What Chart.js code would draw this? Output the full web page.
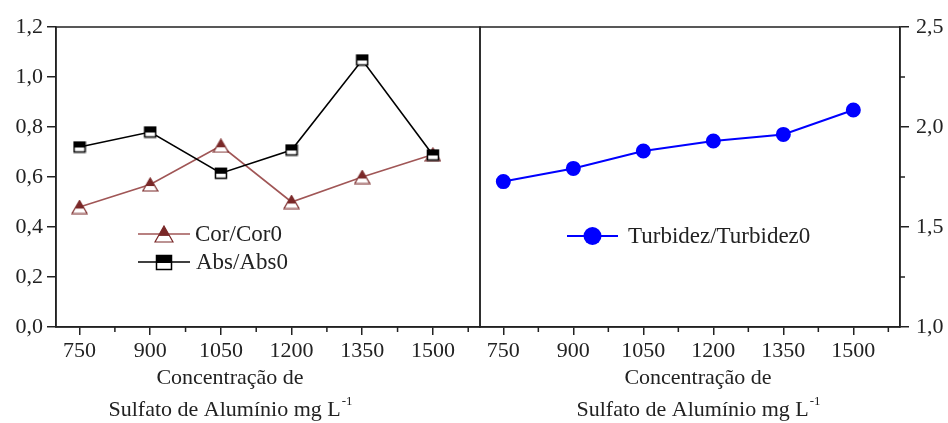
<!DOCTYPE html>
<html>
<head>
<meta charset="utf-8">
<script src="https://cdn.jsdelivr.net/npm/chart.js@4.4.0/dist/chart.umd.min.js"></script>
<style>
  html, body { margin: 0; padding: 0; background: #fff; overflow: hidden; }
  #wrap { position: relative; width: 948px; height: 423px; }
  #left { position: absolute; left: 0; top: 0; }
  #right { position: absolute; left: 470px; top: 0; }
</style>
</head>
<body>
<div id="wrap">
  <canvas id="left" width="482" height="426"></canvas>
  <canvas id="right" width="478" height="426"></canvas>
</div>
<script>
// data
var concentrations = [750, 900, 1050, 1200, 1350, 1500];
var corValues = [0.48, 0.57, 0.725, 0.50, 0.60, 0.69];
var absValues = [0.72, 0.78, 0.615, 0.708, 1.068, 0.688];
var turbValues = [1.727, 1.793, 1.88, 1.93, 1.963, 2.085];

var xTicks = [750, 825, 900, 975, 1050, 1125, 1200, 1275, 1350, 1425, 1500, 1575];
var leftYTicks = [0, 0.1, 0.2, 0.3, 0.4, 0.5, 0.6, 0.7, 0.8, 0.9, 1.0, 1.1, 1.2];
var rightYTicks = [1.0, 1.25, 1.5, 1.75, 2.0, 2.25, 2.5];
var xTitle1 = "Concentração de";
var xTitle2 = "Sulfato de Alumínio mg L";
var xTitleSup = "-1";

var FONT = "'Liberation Serif', 'Times New Roman', serif";
var AXIS = "#222";
var BROWN_LINE = "#a05656";
var BROWN_FILL = "#7a2828";
var BLUE = "#0000ff";

function pts(vals) {
  return concentrations.map(function(c, i) { return { x: c, y: vals[i] }; });
}

function isMajorX(v) { return v % 150 === 0; }
function isMajorLeftY(v) { return Math.round(v * 10) % 2 === 0; }
function isMajorRightY(v) { return Math.round(v * 100) % 50 === 0; }
function comma(v) { return v.toFixed(1).replace(".", ","); }

// marker images
function squareImg(w, h) {
  var c = document.createElement("canvas");
  c.width = w + 2; c.height = h + 2;
  var g = c.getContext("2d");
  g.fillStyle = "#fff"; g.fillRect(1, 1, w, h);
  g.fillStyle = "#000"; g.fillRect(1, 1, w, Math.round(h * 0.55));
  g.strokeStyle = "#000"; g.lineWidth = 1.5;
  g.strokeRect(1.5, 1.5, w - 1, h - 1);
  return c;
}
function triangleImg(w, h) {
  var c = document.createElement("canvas");
  c.width = w + 2; c.height = h + 2;
  var g = c.getContext("2d");
  function path() {
    g.beginPath();
    g.moveTo(1 + w / 2, 1);
    g.lineTo(1 + w, 1 + h);
    g.lineTo(1, 1 + h);
    g.closePath();
  }
  path(); g.fillStyle = "#fff"; g.fill();
  g.save(); path(); g.clip();
  g.fillStyle = BROWN_FILL; g.fillRect(0, 0, w + 2, 1 + h * 0.62);
  g.restore();
  path(); g.strokeStyle = BROWN_FILL; g.lineWidth = 1.2; g.stroke();
  return c;
}

var absPoint = squareImg(12, 11);
var corPoint = triangleImg(15, 13);
var absLegend = squareImg(16, 15);
var corLegend = triangleImg(18, 16);

function tickGrid(majorFn, len) {
  return {
    display: true,
    drawOnChartArea: false,
    drawTicks: true,
    tickLength: len,
    lineWidth: 1.5,
    color: function(ctx) {
      return ctx.tick && majorFn(ctx.tick.value) ? AXIS : "rgba(0,0,0,0)";
    }
  };
}

function xAxis() {
  return {
    type: "linear",
    min: 700, max: 1600,
    afterBuildTicks: function(ax) { ax.ticks = xTicks.map(function(v) { return { value: v }; }); },
    afterFit: function(ax) { ax.height = 99; ax.paddingLeft = 0; ax.paddingRight = 0; },
    grid: tickGrid(isMajorX, 8),
    border: { display: true, color: AXIS, width: 1.5 },
    ticks: {
      autoSkip: false, maxRotation: 0, padding: 3, color: "#222",
      font: { family: FONT, size: 22 },
      callback: function(v) { return isMajorX(v) ? String(v) : ""; }
    }
  };
}

// frame, minor ticks, legend and axis title
function decorations(opts) {
  return {
    id: "decor",
    afterDraw: function(chart) {
      var ctx = chart.ctx, a = chart.chartArea;
      ctx.save();
      ctx.strokeStyle = AXIS; ctx.lineWidth = 1.5;
      ctx.strokeRect(a.left, a.top, a.right - a.left, a.bottom - a.top);

      var xs = chart.scales.x, ys = chart.scales.y;
      ctx.beginPath();
      xs.ticks.forEach(function(t) {
        if (isMajorX(t.value)) return;
        var px = xs.getPixelForValue(t.value);
        ctx.moveTo(px, a.bottom); ctx.lineTo(px, a.bottom + 5);
      });
      ys.ticks.forEach(function(t) {
        if (opts.yMajor(t.value)) return;
        var py = ys.getPixelForValue(t.value);
        if (opts.yRight) { ctx.moveTo(a.right, py); ctx.lineTo(a.right + 5, py); }
        else { ctx.moveTo(a.left - 5, py); ctx.lineTo(a.left, py); }
      });
      ctx.stroke();

      // legend
      ctx.font = "23px " + FONT;
      ctx.textBaseline = "middle";
      ctx.fillStyle = "#222";
      opts.legend.forEach(function(l) {
        ctx.strokeStyle = l.color; ctx.lineWidth = l.width;
        ctx.beginPath(); ctx.moveTo(l.x1, l.y); ctx.lineTo(l.x2, l.y); ctx.stroke();
        var mx = (l.x1 + l.x2) / 2;
        if (l.img) {
          ctx.drawImage(l.img, Math.round(mx - l.img.width / 2), Math.round(l.y - l.img.height / 2));
        } else {
          ctx.beginPath(); ctx.arc(mx, l.y, l.radius, 0, Math.PI * 2);
          ctx.fillStyle = l.color; ctx.fill();
        }
        ctx.fillStyle = "#222";
        ctx.textAlign = "left";
        ctx.fillText(l.text, l.tx, l.y + 1);
      });

      // x axis title
      ctx.font = "22px " + FONT;
      ctx.textAlign = "center";
      ctx.fillText(xTitle1, opts.titleX, 378);
      var w1 = ctx.measureText(xTitle2).width;
      ctx.font = "13px " + FONT;
      var w2 = ctx.measureText(xTitleSup).width;
      var start = opts.titleX - (w1 + w2) / 2;
      ctx.textAlign = "left";
      ctx.font = "22px " + FONT;
      ctx.fillText(xTitle2, start, 410);
      ctx.font = "13px " + FONT;
      ctx.fillText(xTitleSup, start + w1 + 1, 402);
      ctx.restore();
    }
  };
}

var leftChart = new Chart(document.getElementById("left").getContext("2d"), {
  type: "line",
  data: {
    datasets: [
      {
        label: "Abs/Abs0",
        data: pts(absValues),
        borderColor: "#000",
        borderWidth: 1.6,
        pointStyle: absPoint,
        pointRadius: 6,
        order: 0
      },
      {
        label: "Cor/Cor0",
        data: pts(corValues),
        borderColor: BROWN_LINE,
        borderWidth: 1.6,
        pointStyle: corPoint,
        pointRadius: 6,
        order: 1
      }
    ]
  },
  options: {
    responsive: false,
    animation: false,
    layout: { autoPadding: false, padding: { top: 27, right: 2, left: 0, bottom: 0 } },
    plugins: { legend: { display: false }, tooltip: { enabled: false } },
    scales: {
      x: xAxis(),
      y: {
        position: "left",
        min: 0, max: 1.2,
        afterBuildTicks: function(ax) { ax.ticks = leftYTicks.map(function(v) { return { value: v }; }); },
        afterFit: function(ax) { ax.width = 56; },
        grid: tickGrid(isMajorLeftY, 9),
        border: { display: true, color: AXIS, width: 1.5 },
        ticks: {
          padding: 4, color: "#222",
          font: { family: FONT, size: 22 },
          callback: function(v) { return isMajorLeftY(v) ? comma(v) : ""; }
        }
      }
    }
  },
  plugins: [decorations({
    yMajor: isMajorLeftY,
    yRight: false,
    titleX: 230,
    legend: [
      { text: "Cor/Cor0", color: BROWN_LINE, width: 1.6, img: corLegend, x1: 138, x2: 190, y: 234, tx: 195 },
      { text: "Abs/Abs0", color: "#000", width: 1.6, img: absLegend, x1: 138, x2: 190, y: 262, tx: 196 }
    ]
  })]
});

var rightChart = new Chart(document.getElementById("right").getContext("2d"), {
  type: "line",
  data: {
    datasets: [
      {
        label: "Turbidez/Turbidez0",
        data: pts(turbValues),
        borderColor: BLUE,
        borderWidth: 2,
        pointStyle: "circle",
        pointRadius: 6.5,
        pointBackgroundColor: BLUE,
        pointBorderColor: BLUE
      }
    ]
  },
  options: {
    responsive: false,
    animation: false,
    layout: { autoPadding: false, padding: { top: 27, right: 0, left: 10, bottom: 0 } },
    plugins: { legend: { display: false }, tooltip: { enabled: false } },
    scales: {
      x: xAxis(),
      y: {
        position: "right",
        min: 1.0, max: 2.5,
        afterBuildTicks: function(ax) { ax.ticks = rightYTicks.map(function(v) { return { value: v }; }); },
        afterFit: function(ax) { ax.width = 48; },
        grid: tickGrid(isMajorRightY, 9),
        border: { display: true, color: AXIS, width: 1.5 },
        ticks: {
          padding: 7, color: "#222",
          font: { family: FONT, size: 22 },
          callback: function(v) { return isMajorRightY(v) ? comma(v) : ""; }
        }
      }
    }
  },
  plugins: [decorations({
    yMajor: isMajorRightY,
    yRight: true,
    titleX: 228,
    legend: [
      { text: "Turbidez/Turbidez0", color: BLUE, width: 2, radius: 9, x1: 97, x2: 148, y: 236, tx: 158 }
    ]
  })]
});
</script>
</body>
</html>
